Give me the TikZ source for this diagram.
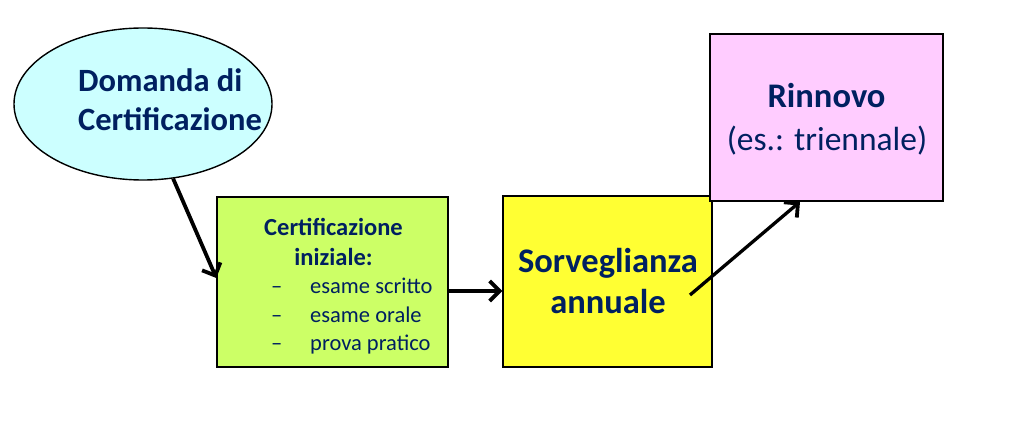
\documentclass[tikz,border=0pt]{standalone}
\usepackage{fontspec}
\setmainfont{Carlito}
\usetikzlibrary{shapes.geometric,arrows.meta,calc}
\definecolor{navy}{HTML}{002060}
\definecolor{cyanfill}{HTML}{CCFFFF}
\definecolor{greenfill}{HTML}{CCFF66}
\definecolor{yellowfill}{HTML}{FFFF33}
\definecolor{pinkfill}{HTML}{FFCCFF}
\tikzset{
  box/.style={draw=black, line width=1.4pt, rectangle, inner sep=0pt},
  txt/.style={text=navy, inner sep=0pt, anchor=base},
  conn/.style={draw=black, line width=3.8pt, -{Straight Barb[length=10pt,width=20pt,line width=3.8pt]}},
}
\begin{document}
\begin{tikzpicture}[x=1pt,y=-1pt]
\useasboundingbox (0,0) rectangle (1024,425);
\fill[white] (0,0) rectangle (1024,425);
% shapes
\node[ellipse, draw=black, line width=1.4pt, fill=cyanfill, minimum width=258pt, minimum height=152pt, inner sep=0pt] (ell) at (143,104) {};
\node[box, fill=greenfill, minimum width=231pt, minimum height=170pt] (green) at (332.5,282) {};
\node[box, fill=yellowfill, minimum width=209pt, minimum height=171pt] (yellow) at (607.5,281.5) {};
\node[box, fill=pinkfill, minimum width=233pt, minimum height=167pt] (pink) at (826.5,117.5) {};
% texts
\node[txt, anchor=base west, font=\fontsize{32.5}{38}\selectfont\bfseries] (t1) at (78,92) {Domanda di};
\node[txt, anchor=base west, font=\fontsize{32.5}{38}\selectfont\bfseries] (t2) at (78,130) {Certificazione};
\node[txt, font=\fontsize{24.5}{28}\selectfont\bfseries] (g1) at (333.5,235) {Certificazione};
\node[txt, font=\fontsize{24.5}{28}\selectfont\bfseries] (g2) at (333.5,265) {iniziale:};
\node[txt, anchor=base west, font=\fontsize{22.5}{26}\selectfont] (d1) at (271,293) {–};
\node[txt, anchor=base west, font=\fontsize{22.5}{26}\selectfont] (d2) at (271,322) {–};
\node[txt, anchor=base west, font=\fontsize{22.5}{26}\selectfont] (d3) at (271,350) {–};
\node[txt, anchor=base west, font=\fontsize{22.5}{26}\selectfont] (i1) at (310,293) {esame scritto};
\node[txt, anchor=base west, font=\fontsize{22.5}{26}\selectfont] (i2) at (310,322) {esame orale};
\node[txt, anchor=base west, font=\fontsize{22.5}{26}\selectfont] (i3) at (310,350) {prova pratico};
\node[txt, font=\fontsize{34.5}{40}\selectfont\bfseries] (y1) at (608,272) {Sorveglianza};
\node[txt, font=\fontsize{34.5}{40}\selectfont\bfseries] (y2) at (608,313) {annuale};
\node[txt, font=\fontsize{34.5}{40}\selectfont\bfseries] (p1) at (826.5,108) {Rinnovo};
\node[txt, font=\fontsize{33.5}{40}\selectfont] (p2) at (827,150) {(es.: triennale)};
% connectors
\draw[conn] (ell.-68) -- ($(green.west)+(0,-4)$);
\draw[conn] (green.east |- 0,291) -- (yellow.west |- 0,291);
\coordinate (ys) at ($(yellow.center)+(82.5,13.5)$);
\draw[conn, line width=3.3pt] (ys) -- ($(pink.south)+(-26.5,0)$);
\end{tikzpicture}
\end{document}
